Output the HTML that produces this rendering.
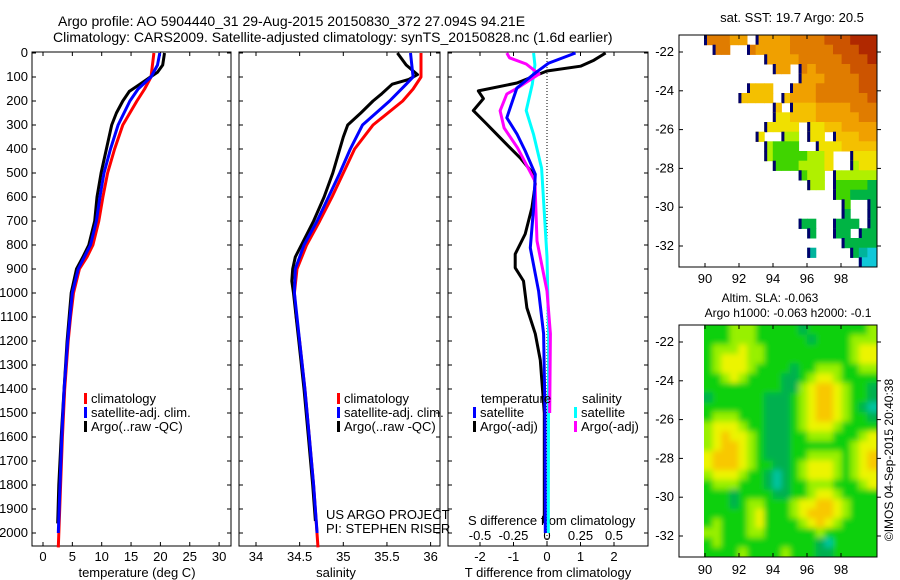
<!DOCTYPE html>
<html><head><meta charset="utf-8"><style>
html,body{margin:0;padding:0;background:#fff;}
svg{display:block;font-family:"Liberation Sans",sans-serif;}
</style></head><body>
<svg id="chart" width="900" height="580" viewBox="0 0 900 580" xmlns="http://www.w3.org/2000/svg">
<defs>
<filter id="blur" x="-5%" y="-5%" width="110%" height="110%"><feGaussianBlur stdDeviation="3"/></filter>
<clipPath id="slaclip"><rect x="704" y="325" width="173" height="232"/></clipPath>
</defs>
<rect x="0" y="0" width="900" height="580" fill="#fff"/>
<text x="58" y="26" font-size="14">Argo profile: AO 5904440_31 29-Aug-2015 20150830_372 27.094S 94.21E</text>
<text x="53" y="42" font-size="14">Climatology: CARS2009. Satellite-adjusted climatology: synTS_20150828.nc (1.6d earlier)</text>
<text x="792" y="22" font-size="13" text-anchor="middle">sat. SST: 19.7 Argo: 20.5</text>
<text x="770" y="302" font-size="12" text-anchor="middle">Altim. SLA: -0.063</text>
<text x="788" y="317" font-size="12" text-anchor="middle">Argo h1000: -0.063 h2000: -0.1</text>
<text transform="translate(893,460) rotate(-90)" font-size="12" text-anchor="middle">©IMOS 04-Sep-2015 20:40:38</text>
<g id="g"></g>
</svg>
<script>
// ---- data ----
var depthTicks=[0,100,200,300,400,500,600,700,800,900,1000,1100,1200,1300,1400,1500,1600,1700,1800,1900,2000];
var tempTicks=[0,5,10,15,20,25,30];
var salTicks=[34,34.5,35,35.5,36];
var tdiffTicks=[-2,-1,0,1,2];
var sdiffTicks=[-0.5,-0.25,0,0.25,0.5];
var sdiffTickLabels=["-0.5","-0.25","0","0.25","0.5"];
var latTicks=[-22,-24,-26,-28,-30,-32];
var lonTicks=[90,92,94,96,98];

var tClimD=[0,100,150,200,300,400,500,600,700,800,850,900,1000,1100,1200,1400,1600,1800,2060];
var tClimV=[18.9,18.4,17.3,16.0,13.6,12.2,11.0,10.2,9.5,8.5,7.5,6.2,5.2,4.7,4.3,3.7,3.3,3.0,2.6];
var tArgoD=[0,50,80,100,130,160,200,250,300,400,500,600,700,800,850,900,1000,1200,1400,1600,1800,1960];
var tArgoV=[20.7,20.4,19.5,18.3,16.5,14.7,13.6,12.5,11.7,10.8,9.9,9.2,8.8,7.8,6.8,5.7,4.8,4.1,3.6,3.1,2.7,2.5];
var tSatD=[0,50,100,150,200,300,400,500,600,700,800,900,1000,1200,1400,1600,1800,2000];
var tSatV=[19.9,19.5,18.4,16.2,14.8,12.8,11.5,10.4,9.7,9.1,8.1,6.0,5.0,4.2,3.6,3.2,2.9,2.6];

var sClimD=[0,100,150,200,300,400,500,600,700,800,900,1000,1100,1200,1400,1600,1800,2060];
var sClimV=[35.89,35.89,35.8,35.68,35.34,35.13,35.0,34.87,34.73,34.58,34.47,34.44,34.46,34.5,34.56,34.61,34.66,34.71];
var sArgoD=[0,50,90,110,130,170,200,250,300,350,400,500,600,700,800,850,900,950,1000,1200,1400,1600,1800,1950];
var sArgoV=[35.62,35.72,35.85,35.75,35.56,35.44,35.34,35.2,35.05,35.0,34.96,34.88,34.78,34.66,34.52,34.45,34.42,34.41,34.43,34.49,34.55,34.6,34.65,34.68];
var sSatD=[0,100,130,200,300,400,500,600,700,800,900,1000,1200,1400,1600,1800,2000];
var sSatV=[35.77,35.8,35.72,35.53,35.22,35.08,34.96,34.83,34.7,34.55,34.45,34.44,34.5,34.56,34.61,34.66,34.70];

var dTArgoD=[0,30,55,75,125,158,190,240,296,367,437,505,546,645,754,838,895,950,1062,1170,1280,1500,1960];
var dTArgoV=[1.75,1.4,1.0,0,-0.9,-2.05,-1.9,-2.2,-1.8,-1.3,-0.8,-0.4,-0.35,-0.45,-0.65,-0.95,-0.95,-0.7,-0.6,-0.35,-0.2,-0.08,-0.08];
var dTSatD=[0,42,83,146,229,270,337,408,505,645,812,992,1170,1500,2000];
var dTSatV=[0.85,0.05,-0.35,-0.9,-1.1,-1.2,-0.9,-0.65,-0.35,-0.4,-0.5,-0.25,-0.1,-0.06,-0.05];
var dSSatD=[0,50,130,240,340,480,850,1170,2000];
var dSSatV=[-0.1,-0.09,-0.11,-0.155,-0.1,-0.04,0,0.012,0.01];
var dSArgoD=[0,20,46,88,146,171,241,312,395,533,783,992,1170,1500];
var dSArgoV=[-0.3,-0.28,-0.155,-0.06,-0.22,-0.3,-0.35,-0.32,-0.22,-0.09,-0.075,0,0.025,0.02];

var sstRows=[
"77766.66667777888999",".77..766667777788899",".......6666777778889","........66.767777888",
"...........666777788",".....555..6667777788","....5555.56667777778","........5.5556666777",
"........445556666677",".......4444.44556666","......4..33.44.55566",".......3222..4445555",
".......32222334..444","........2223334..344","...........233.33333","............33.22221",
"...............22111","................2..1","................1..1","...........11..111.1",
"............1..11.11","................1111","............0....10a","..................aa"];
var slaRows=[
"22233322222122222223","22233322222212222333","23334332222222222344","23444332222222222344",
"23444322221223332233","22343222211234432222","22222222211345543221","12222221112345543221",
"22222221112345543210","23332221112345543221","34443221112344432222","34544321112233322234",
"34554321112222222344","45554321112233332345","45554322112344432345","34443221012344432344",
"23332221012233322234","22212222112234432222","22212332223445543222","22222342223455543222",
"23222342222345432222","33222332222223222222","23222222222221022222","22223222232221122222"];
var sstColors={"a":"#10c8d8","0":"#00b49c","1":"#00b444","2":"#40d400","3":"#b0f000","4":"#f0e000","5":"#f4c000","6":"#f0a000","7":"#e07c00","8":"#cc5400","9":"#b02800"};
var slaColors={"0":"#00c4a0","1":"#00b050","2":"#10d010","3":"#98f000","4":"#ecf400","5":"#f8c800"};

// ---- drawing ----
var NS="http://www.w3.org/2000/svg", G=document.getElementById("g");
function el(t,a,p){var e=document.createElementNS(NS,t);for(var k in a)e.setAttribute(k,a[k]);(p||G).appendChild(e);return e;}
function txt(x,y,s,anchor,size,p){var e=el("text",{x:x,y:y,"font-size":size||13,"text-anchor":anchor||"middle"},p);e.textContent=s;return e;}
var Y0=53,YK=0.24,TOP=52,BOT=546;
function yD(d){return Y0+d*YK;}
var panels=[
 {name:"temperature",x0:32,x1:231,fx:function(v){return 43+v*5.87;}},
 {name:"salinity",x0:239,x1:440,fx:function(v){return 256+(v-34)*87.3;}},
 {name:"difference",x0:448,x1:648,fx:function(v){return 547+v*33.5;}}
];
function sx(v){return 547+v*4*33.5;}
panels.forEach(function(p,i){
 var f=el("rect",{x:p.x0,y:TOP,width:p.x1-p.x0,height:BOT-TOP,fill:"none",stroke:"#000","stroke-width":1});
 
 
 depthTicks.forEach(function(d){
  el("line",{x1:p.x0,x2:p.x0+4,y1:yD(d),y2:yD(d),stroke:"#000"});
  el("line",{x1:p.x1,x2:p.x1-4,y1:yD(d),y2:yD(d),stroke:"#000"});
 });
});
depthTicks.forEach(function(d){var t=txt(28,yD(d)+4,String(d),"end",13);
 
 });
function xticks(p,ticks,labels,ly,top){
 ticks.forEach(function(v,i){var x=p.fx(v);
  el("line",{x1:x,x2:x,y1:BOT,y2:BOT-4,stroke:"#000"});
  if(top)el("line",{x1:x,x2:x,y1:TOP,y2:TOP+4,stroke:"#000"});
  var t=txt(x,ly,labels[i],"middle",13);
  
  
 });
}
xticks(panels[0],tempTicks,tempTicks.map(String),561,true);
xticks(panels[1],salTicks,salTicks.map(String),561,true);
xticks(panels[2],tdiffTicks,tdiffTicks.map(String),561,false);
sdiffTicks.forEach(function(v){var x=sx(v);el("line",{x1:x,x2:x,y1:TOP,y2:TOP+4,stroke:"#000"});});
sdiffTicks.forEach(function(v,i){var t=txt(sx(v),540,sdiffTickLabels[i],"middle",13);
 
 });
var a;
a=txt(137,577,"temperature (deg C)","middle",13);
a=txt(336,577,"salinity","middle",13);
a=txt(548,577,"T difference from climatology","middle",13);
a=txt(468,525,"S difference from climatology","start",13);
el("line",{x1:547,x2:547,y1:TOP,y2:BOT,stroke:"#000","stroke-dasharray":"1,2"});
function series(D,V,fx,color,name){
 var pts=D.map(function(d,i){return fx(V[i]).toFixed(1)+","+yD(d).toFixed(1);}).join(" ");
 var l=el("polyline",{points:pts,fill:"none",stroke:color,"stroke-width":3,"stroke-linejoin":"round"});
 
 
}
series(tClimD,tClimV,panels[0].fx,"#f00","temp-climatology-line");
series(tArgoD,tArgoV,panels[0].fx,"#000","temp-argo-line");
series(tSatD,tSatV,panels[0].fx,"#00f","temp-satellite-line");
series(sClimD,sClimV,panels[1].fx,"#f00","sal-climatology-line");
series(sArgoD,sArgoV,panels[1].fx,"#000","sal-argo-line");
series(sSatD,sSatV,panels[1].fx,"#00f","sal-satellite-line");
series(dTArgoD,dTArgoV,panels[2].fx,"#000","tdiff-argo-line");
series(dSSatD,dSSatV,sx,"#0ff","sdiff-satellite-line");
series(dSArgoD,dSArgoV,sx,"#f0f","sdiff-argo-line");
series(dTSatD,dTSatV,panels[2].fx,"#00f","tdiff-satellite-line");
function legend(x,y,color,label,name){
 el("rect",{x:x,y:y-10,width:3,height:11,fill:color});
 var t=txt(x+7,y,label,"start",13);
 
 
}
[[84,"climatology","#f00"],[84,"satellite-adj. clim.","#00f"],[84,"Argo(..raw -QC)","#000"]].forEach(function(r,i){legend(r[0],403+i*14,r[2],r[1],'legend-entry');});
[[337,"climatology","#f00"],[337,"satellite-adj. clim.","#00f"],[337,"Argo(..raw -QC)","#000"]].forEach(function(r,i){legend(r[0],403+i*14,r[2],r[1],'legend-entry');});
a=txt(481,403,"temperature","start",13);
a=txt(582,403,"salinity","start",13);
legend(473,417,"#00f","satellite","legend-entry");
legend(473,431,"#000","Argo(-adj)","legend-entry");
legend(574,417,"#0ff","satellite","legend-entry");
legend(574,431,"#f0f","Argo(-adj)","legend-entry");
a=txt(326,519,"US ARGO PROJECT","start",13);
a=txt(326,533,"PI: STEPHEN RISER","start",13);

// ---- maps ----
function map(top,rows,colors,name,lonLabelY,smooth){
 var L=679,R=877,B=top+232,cw=8.6,rh=232/24;
 function lx(lon){return 705+(lon-90)*17;}
 function ly(lat){return top+17+(-22-lat)*19.4;}
 var host=G;
 if(smooth){
  var outer=el("g",{"clip-path":"url(#slaclip)"});
  host=el("g",{filter:"url(#blur)"},outer);
 }
 rows.forEach(function(r,j){
  for(var i=0;i<r.length;i++){var c=r[i];if(c===".")continue;
   var x=704+i*cw,y=top+j*rh,w=cw+0.5,h=rh+0.5;
   if(smooth){ if(i===0){x-=6;w+=6;} if(i===r.length-1){w+=6;} if(j===0){y-=6;h+=6;} if(j===rows.length-1){h+=6;} }
   var cell=el("rect",{x:x.toFixed(1),y:y.toFixed(1),width:w.toFixed(1),height:h.toFixed(1),fill:colors[c]},host);
   
   
   if(!smooth&&(i===0||r[i-1]===".")) el("rect",{x:x.toFixed(1),y:y.toFixed(1),width:3,height:h.toFixed(1),fill:"#00006e"});
  }
 });
 var f=el("rect",{x:L,y:top,width:R-L,height:B-top,fill:"none",stroke:"#000"});
 
 
 latTicks.forEach(function(v){var y=ly(v);el("line",{x1:L,x2:L+4,y1:y,y2:y,stroke:"#000"});el("line",{x1:R,x2:R+4,y1:y,y2:y,stroke:"#000"});
  var t=txt(674,y+4,String(v),"end",13);});
 lonTicks.forEach(function(v){var x=lx(v);el("line",{x1:x,x2:x,y1:B,y2:B-4,stroke:"#000"});el("line",{x1:x,x2:x,y1:top,y2:top+4,stroke:"#000"});
  var t=txt(x,lonLabelY,String(v),"middle",13);});
}
map(35,sstRows,sstColors,"sst-map",283,false);
map(325,slaRows,slaColors,"sla-map",574,true);
</script>
</body></html>
